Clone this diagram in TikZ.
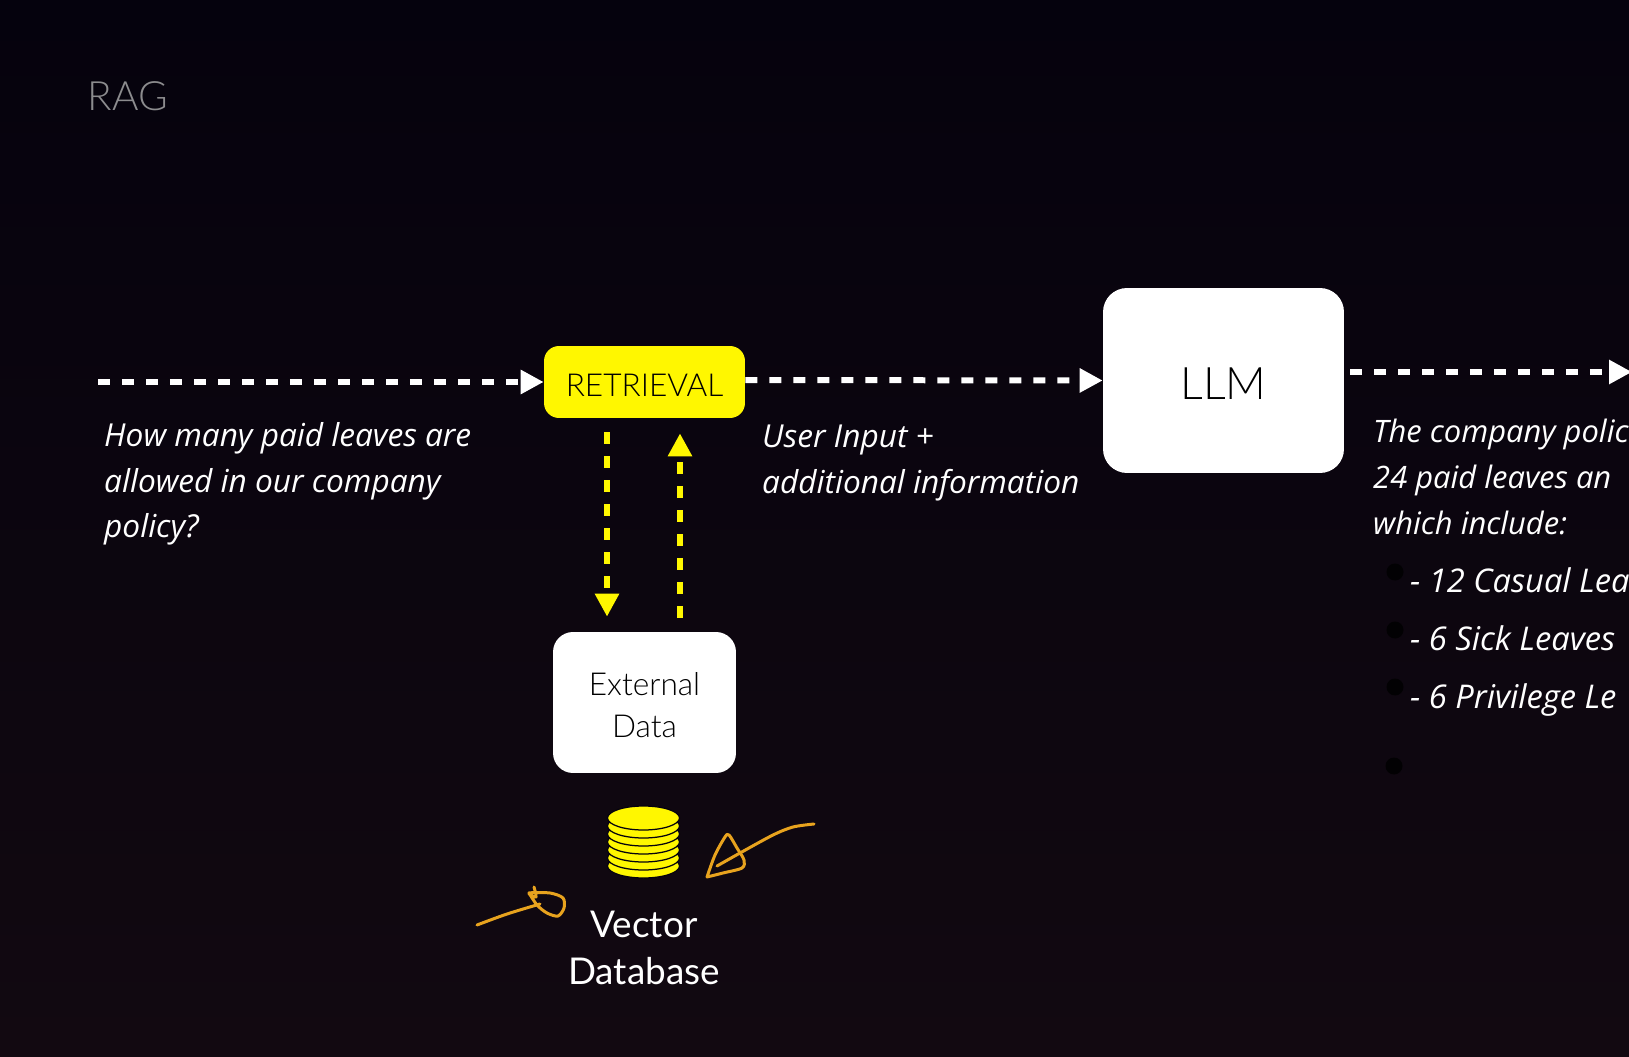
\documentclass[tikz,border=0pt]{standalone}
\usepackage{fontspec}
\usepackage{tikz}
\usetikzlibrary{arrows.meta,positioning,shapes,calc}
\setmainfont{Lato Light}
\newfontfamily\handfont{Open Sans Italic}
\newfontfamily\labelfont{Lato}
\definecolor{bgtop}{RGB}{5,2,13}
\definecolor{bgbottom}{RGB}{18,9,17}
\definecolor{ragyellow}{RGB}{255,247,0}
\definecolor{inkorange}{RGB}{232,163,30}
\definecolor{ragtitle}{RGB}{140,140,142}
\tikzset{
  whiteflow/.style={white, line width=0.12cm, dash pattern=on 0.24cm off 0.24cm, -{Triangle[length=0.46cm,width=0.46cm]}},
  yellowflow/.style={ragyellow, line width=0.12cm, dash pattern=on 0.24cm off 0.24cm, -{Triangle[length=0.46cm,width=0.46cm]}},
  handtext/.style={white, anchor=west, align=left, font=\handfont\fontsize{18}{26}\selectfont},
  listtext/.style={handtext, font=\handfont\fontsize{18.6}{26}\selectfont},
  inkline/.style={inkorange, line width=0.06cm, line cap=round, line join=round},
  hiddendot/.style={circle, fill=black, opacity=0.8, inner sep=0pt, minimum size=0.34cm},
}
\begin{document}
\begin{tikzpicture}[x=0.02cm, y=-0.02cm]
  \useasboundingbox (0,0) rectangle (1629,1057);
  \shade[top color=bgtop, bottom color=bgbottom] (0,0) rectangle (1629,1057);

  \node[ragtitle, font=\fontsize{23}{27}\selectfont] (title) at (128,96) {RAG};

  \node[rectangle, fill=ragyellow, rounded corners=0.3cm, minimum width=4.02cm, minimum height=1.44cm] (retrieval) at (644.5,382) {};
  \node[font=\fontsize{18}{22}\selectfont] (retrievaltext) at (644.5,385) {RETRIEVAL};
  \node[rectangle, fill=white, rounded corners=0.48cm, minimum width=4.82cm, minimum height=3.7cm] (llm) at (1223.5,380.5) {};
  \node[font=\fontsize{25.5}{30}\selectfont] (llmtext) at (1223.5,384) {LLM};
  \node[rectangle, fill=white, rounded corners=0.4cm, minimum width=3.66cm, minimum height=2.82cm] (external) at (644.5,702.5) {};
  \node[align=center, font=\fontsize{18}{24}\selectfont] (externaltext) at (644.5,705.5) {External\\Data};
  \node[white, align=center, font=\labelfont\fontsize{21}{27}\selectfont] (vectordb) at (644,948) {Vector\\Database};

  \coordinate (queryin) at (98,382);
  \coordinate (answerout) at (1632,372);
  \coordinate (llmout) at (1350,372);

  \draw[whiteflow] (queryin) -- (retrieval.west);
  \draw[whiteflow] ([yshift=0.04cm]retrieval.east) -- (llm.west);
  \draw[whiteflow] (llmout) -- (answerout);
  \draw[yellowflow] ([xshift=-0.75cm,yshift=-0.28cm]retrieval.south) -- ([xshift=-0.75cm,yshift=0.3cm]external.north);
  \draw[yellowflow] ([xshift=0.71cm,yshift=0.28cm]external.north) -- ([xshift=0.71cm,yshift=-0.3cm]retrieval.south);

  \node[handtext] (question) at (98,484) {How many paid leaves are\\allowed in our company\\policy?};
  \node[handtext] (augmented) at (756,463) {User Input +\\additional information};
  \node[handtext, font=\handfont\fontsize{17.6}{26}\selectfont] (answer) at (1367,477) {The company polic\\24 paid leaves an\\which include:};
  \node[listtext] (casual) at (1404,580) {- 12 Casual Lea};
  \node[listtext] (sick) at (1404,638) {- 6 Sick Leaves};
  \node[listtext] (privilege) at (1404,700) {- 6 Privilege Le};

  \node[hiddendot] (dota) at (1395,572) {};
  \node[hiddendot] (dotb) at (1395,630) {};
  \node[hiddendot] (dotc) at (1395,687) {};
  \node[hiddendot] (dotd) at (1394,766) {};

  % stacked discs of the database icon
  \foreach \y in {866,858,850,842,834,826,818}
    \draw[fill=ragyellow, draw=bgtop, line width=0.025cm] (643.5,\y) ellipse (36 and 12);

  % hand drawn marks
  \draw[inkline] plot[smooth] coordinates {(814,824) (793,827) (773,835) (740,853) (717,866)};
  \draw[inkline] plot[smooth] coordinates {(707,877) (715,855) (725,837) (729,835) (737,848) (744,860) (742,868) (723,873) (707,877)};
  \draw[inkline] plot[smooth] coordinates {(477,925) (507,914) (540,904)};
  \draw[inkline] plot[smooth] coordinates {(534,887) (536,897) (529,893) (550,893) (563,898) (564,908) (558,916) (547,913) (537,905) (529,893)};
\end{tikzpicture}
\end{document}
